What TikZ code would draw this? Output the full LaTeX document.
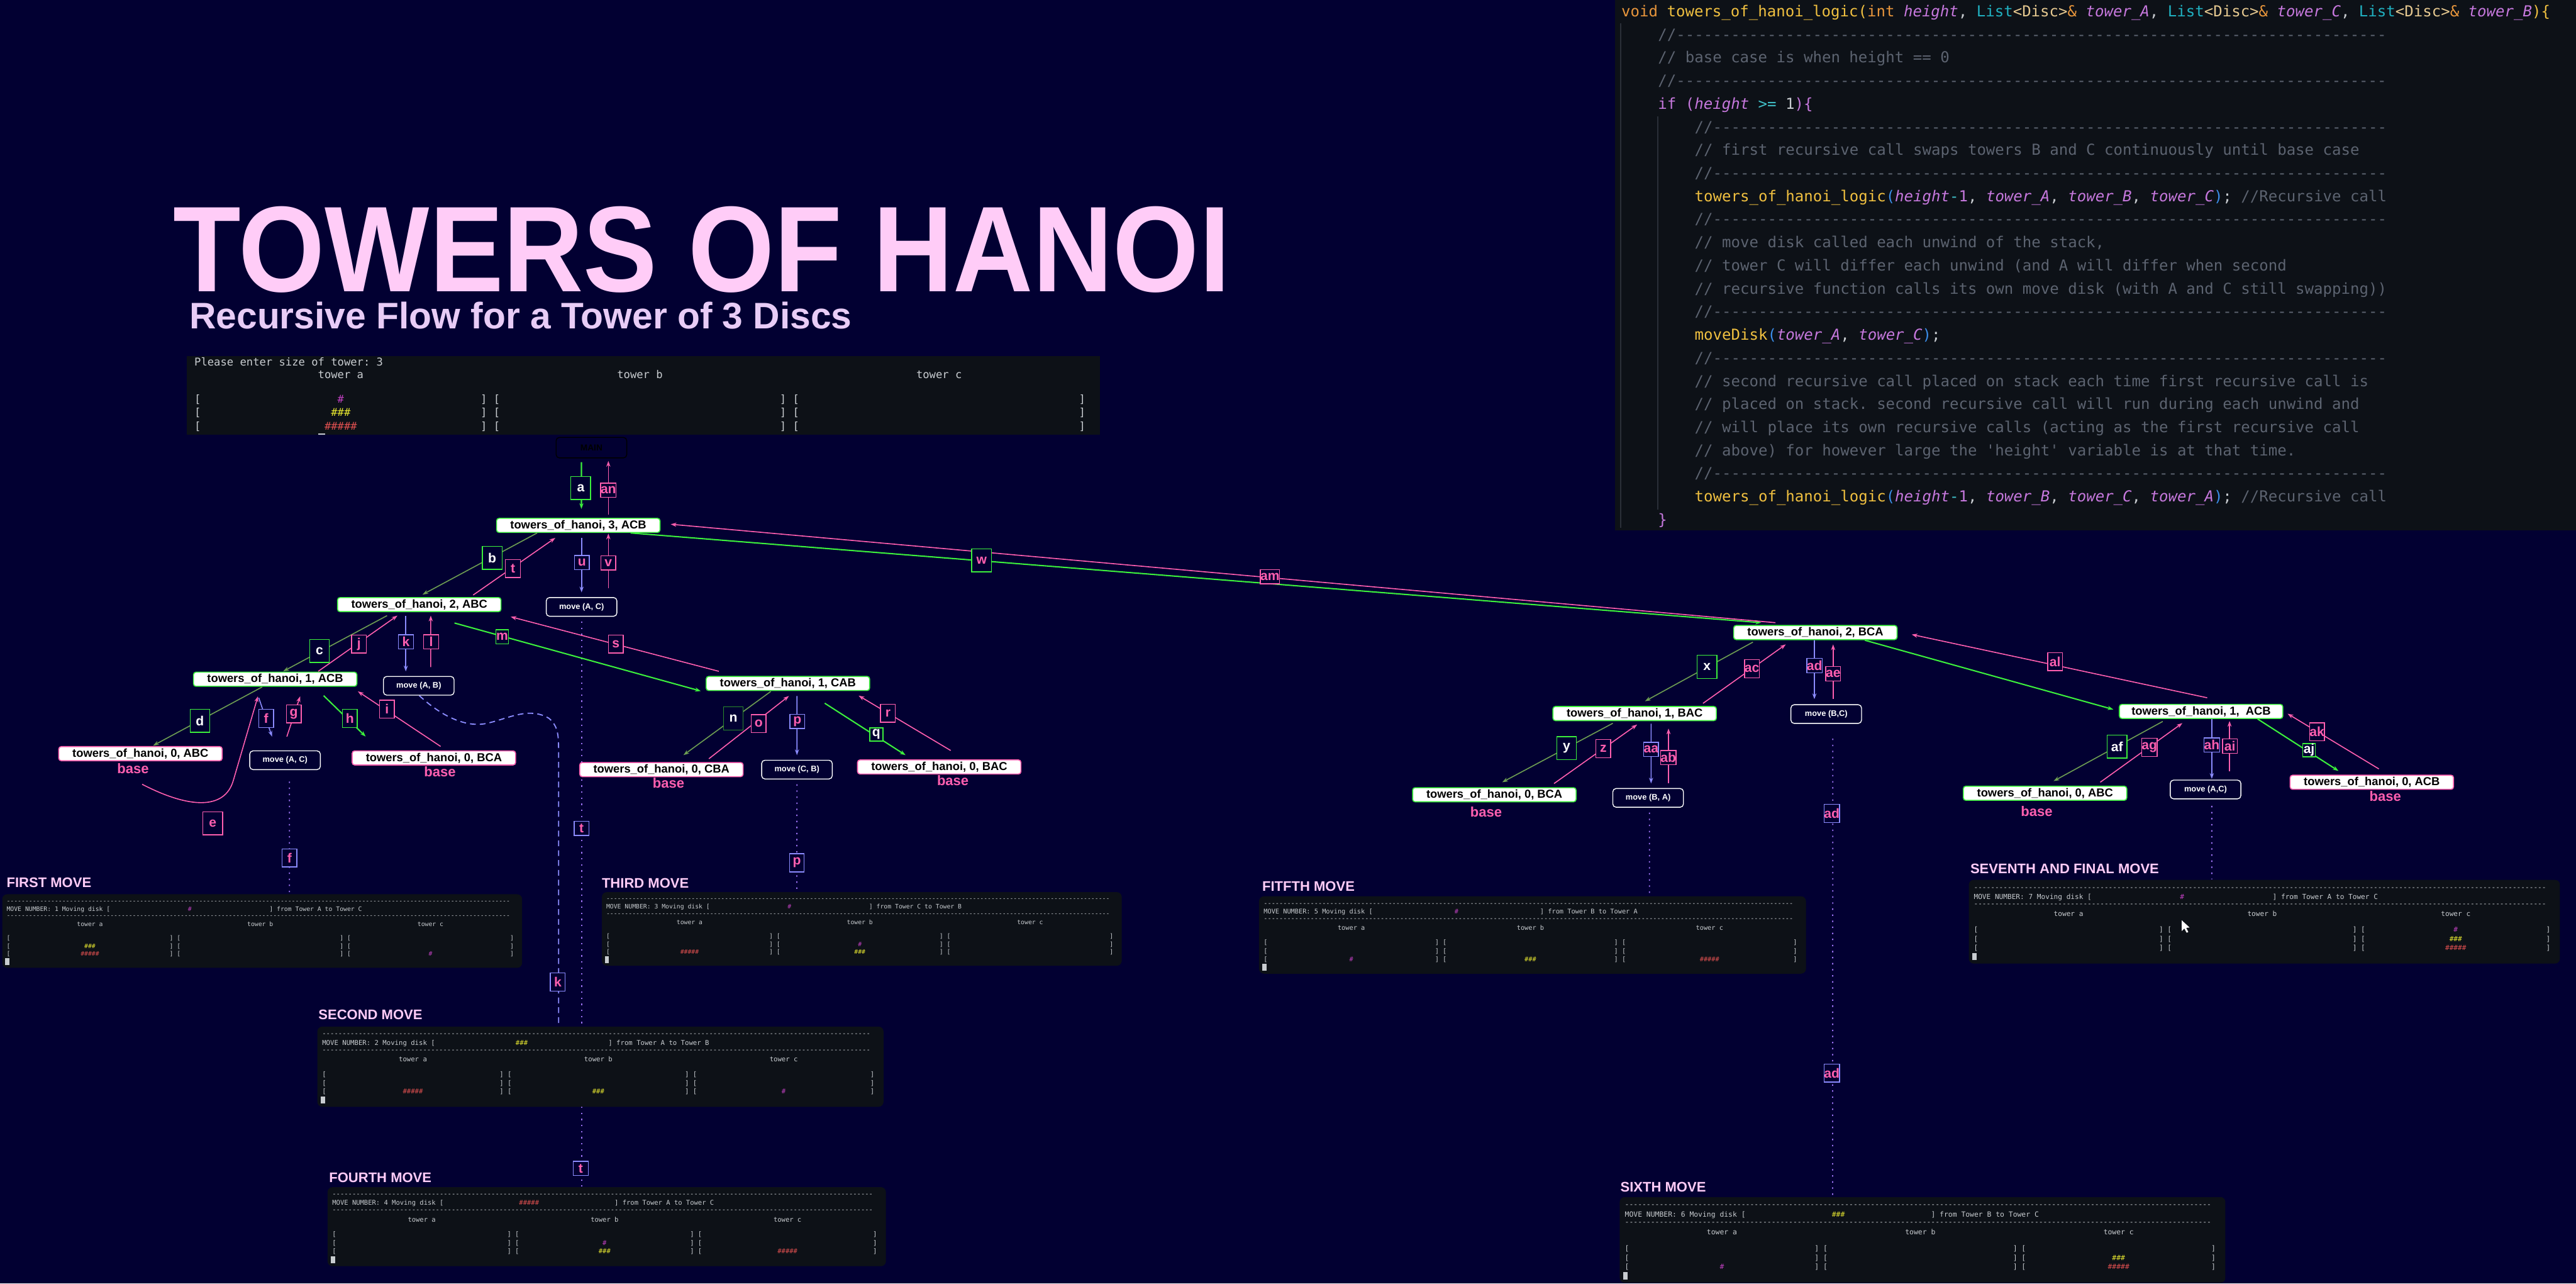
\documentclass[tikz,border=0pt]{standalone}
\usepackage{fontspec}
\setmainfont{Liberation Sans}
\setmonofont{DejaVu Sans Mono}
\usepackage{graphicx}
\usepackage{xcolor}
\usepackage{tikz}
\usetikzlibrary{arrows.meta,positioning}

\definecolor{navy}{RGB}{2,0,50}
\definecolor{panelbg}{HTML}{0D1117}
\definecolor{hotpink}{HTML}{FF5FAF}
\definecolor{brightgreen}{HTML}{3CF03C}
\definecolor{olivegreen}{HTML}{6E9E52}
\definecolor{darkgreen}{HTML}{2A8A2A}
\definecolor{lav}{HTML}{8C8CFF}
\definecolor{dotpurple}{HTML}{9A70F0}
\definecolor{titlepink}{HTML}{FFCCF7}
\definecolor{subpink}{HTML}{E8CCF6}
\definecolor{termtxt}{HTML}{C8CCD0}
\definecolor{discmag}{HTML}{C040C0}
\definecolor{discyel}{HTML}{E8E830}
\definecolor{discred}{HTML}{E05050}
\definecolor{codeKw}{HTML}{E8963C}
\definecolor{codeFn}{HTML}{F0C040}
\definecolor{codeVar}{HTML}{C678DD}
\definecolor{codeTy}{HTML}{20B0C0}
\definecolor{codeGen}{HTML}{E5C890}
\definecolor{codeCom}{HTML}{5C6370}
\definecolor{codePar}{HTML}{3B8EEA}
\definecolor{codeOp}{HTML}{40C0C8}
\definecolor{codePun}{HTML}{C8CCD0}
\definecolor{guide}{HTML}{2A2F38}

\pgfdeclarelayer{backdrop}
\pgfdeclarelayer{trails}
\pgfsetlayers{backdrop,trails,main}

% code colouring
\newcommand{\cKw}[1]{\textcolor{codeKw}{#1}}
\newcommand{\cFn}[1]{\textcolor{codeFn}{#1}}
\newcommand{\cVar}[1]{\textcolor{codeVar}{\itshape #1}}
\newcommand{\cTy}[1]{\textcolor{codeTy}{#1}}
\newcommand{\cGen}[1]{\textcolor{codeGen}{#1}}
\newcommand{\cCom}[1]{\textcolor{codeCom}{#1}}
\newcommand{\cPar}[1]{\textcolor{codePar}{#1}}
\newcommand{\cOp}[1]{\textcolor{codeOp}{#1}}
\newcommand{\cIf}[1]{\textcolor{codeVar}{#1}}

% terminal panels
\newcommand{\hyph}[1]{\foreach\hh in {1,...,#1}{-}}
\newcommand{\tcol}[1]{\makebox[43\fontcharwd\font`0][c]{#1}}
\newcommand{\twr}{\makebox[45\fontcharwd\font`0]{tower a}\makebox[\fontcharwd\font`0]{}\makebox[45\fontcharwd\font`0]{tower b}\makebox[\fontcharwd\font`0]{}\makebox[45\fontcharwd\font`0]{tower c}}
\newcommand{\dm}{\textcolor{discmag}{\#}}
\newcommand{\dy}{\textcolor{discyel}{\#\#\#}}
\newcommand{\dr}{\textcolor{discred}{\#\#\#\#\#}}
\newcommand{\panelframe}[5]{%
  \node[termbox, anchor=north west] (#1) at (0,0) {};
  \node[term] (#1-d1) at (2.7,5) {\hyph{136}};
  \node[term] (#1-hd) at (2.7,9.6) {MOVE NUMBER: #2 Moving disk [\tcol{#3}] from Tower #4 to Tower #5};
  \node[term] (#1-d2) at (2.7,14) {\hyph{136}};
  \node[term] (#1-tw) at (2.7,18.6) {\twr};
  \fill[termtxt] (2.2,39.4) rectangle (4.6,43.4);}
\newcommand{\panelrow}[5]{\node[term] (#1) at (2.7,#2) {[\tcol{#3}] [\tcol{#4}] [\tcol{#5}]};}

\begin{document}
\begin{tikzpicture}[x=0.02cm, y=-0.02cm,
  callnode/.style={draw=brightgreen, fill=white, text=black, font=\bfseries\fontsize{4}{4.5}\selectfont,
    minimum width=19.9mm, minimum height=1.72mm, inner sep=0pt, rounded corners=0.3mm, line width=0.35pt},
  basenode/.style={callnode, draw=hotpink},
  movenode/.style={draw=white, fill=navy, text=white, font=\bfseries\fontsize{2.8}{3}\selectfont,
    minimum width=8.6mm, minimum height=2.28mm, inner sep=0pt, rounded corners=0.4mm, line width=0.3pt},
  tag/.style={fill=navy, font=\bfseries\fontsize{4.6}{4.8}\selectfont, inner sep=0pt, line width=0.3pt},
  gtag/.style={tag, draw=brightgreen, text=white},
  ptag/.style={tag, draw=hotpink, text=hotpink},
  vtag/.style={tag, draw=lav, text=hotpink},
  tagL/.style={minimum width=2.4mm, minimum height=2.8mm},
  tagM/.style={minimum width=1.8mm, minimum height=2.2mm},
  tagS/.style={minimum width=1.8mm, minimum height=1.72mm},
  basetxt/.style={text=hotpink, font=\bfseries\fontsize{4.8}{5}\selectfont, inner sep=0pt},
  callg/.style={olivegreen, line width=0.35pt, -{Stealth[length=0.7mm, width=0.5mm]}},
  callb/.style={brightgreen, line width=0.45pt, -{Stealth[length=0.7mm, width=0.5mm]}},
  ret/.style={hotpink, line width=0.35pt, -{Stealth[length=0.7mm, width=0.5mm]}},
  mvarrow/.style={lav, line width=0.35pt, -{Stealth[length=0.7mm, width=0.5mm]}},
  trail/.style={dotpurple, line width=0.4pt, dash pattern=on 0.5pt off 1.6pt},
  trailk/.style={lav, line width=0.4pt, dash pattern=on 2pt off 1.4pt},
  term/.style={text=termtxt, font=\ttfamily\fontsize{2.13}{2.5}\selectfont, inner sep=0pt, anchor=west},
  termbox/.style={fill=panelbg, minimum width=63.3mm, minimum height=8.96mm, inner sep=0pt, rounded corners=0.6mm},
  panelat/.style n args={3}{shift={(#1,#2)}, scale=#3, transform shape},
  movetitle/.style={text=titlepink, font=\bfseries\fontsize{4.8}{5}\selectfont, inner sep=0pt, anchor=west},
  code/.style={text=codePun, font=\ttfamily\fontsize{5.24}{6}\selectfont, inner sep=0pt, anchor=base west},
]
\useasboundingbox (0,0) rectangle (1568,781);
\begin{pgfonlayer}{backdrop}
  \fill[navy] (0,0) rectangle (1568,781);
\end{pgfonlayer}

% title
\node[anchor=base west, inner sep=0pt, text=titlepink, font=\bfseries\fontsize{38.4}{40}\selectfont] (title) at (105,177.5) {\scalebox{1}[1.1]{TOWERS OF HANOI}};
\node[anchor=base west, inner sep=0pt, text=subpink, font=\bfseries\fontsize{12.8}{14}\selectfont] (subtitle) at (115,200) {Recursive Flow for a Tower of 3 Discs};

% code panel
\fill[panelbg] (982.9,0) rectangle (1568,322.6);
\draw[guide, line width=0.4pt] (986.6,14) -- (986.6,321);
\draw[guide, line width=0.4pt] (1009,71) -- (1009,310);
\node[code] (c1) at (986.6,10.1) {\cKw{void} \cFn{towers\_of\_hanoi\_logic(}\cKw{int} \cVar{height}, \cTy{List}\cGen{<Disc>}\cKw{\&} \cVar{tower\_A}, \cTy{List}\cGen{<Disc>}\cKw{\&} \cVar{tower\_C}, \cTy{List}\cGen{<Disc>}\cKw{\&} \cVar{tower\_B}\cFn{)\{}};
\foreach \n/\xx/\k in {2/1008.9/78, 4/1008.9/78, 6/1031.2/74, 8/1031.2/74, 10/1031.2/74, 14/1031.2/74, 16/1031.2/74, 21/1031.2/74}
  \node[code] (c\n) at (\xx,{10.1+(\n-1)*14.06}) {\cCom{//\hyph{\k}}};
\node[code] (c3) at (1008.9,38.2) {\cCom{// base case is when height == 0}};
\node[code] (c5) at (1008.9,66.3) {\cIf{if} \cIf{(}\cVar{height} \cOp{>=} 1\cIf{)\{}};
\node[code] (c7) at (1031.2,94.5) {\cCom{// first recursive call swaps towers B and C continuously until base case}};
\node[code] (c9) at (1031.2,122.6) {\cFn{towers\_of\_hanoi\_logic}\cPar{(}\cVar{height}\cOp{-}\textcolor{codeVar}{1}, \cVar{tower\_A}, \cVar{tower\_B}, \cVar{tower\_C}\cPar{)}; \cCom{//Recursive call}};
\node[code] (c11) at (1031.2,150.7) {\cCom{// move disk called each unwind of the stack,}};
\node[code] (c12) at (1031.2,164.8) {\cCom{// tower C will differ each unwind (and A will differ when second}};
\node[code] (c13) at (1031.2,178.8) {\cCom{// recursive function calls its own move disk (with A and C still swapping))}};
\node[code] (c15) at (1031.2,206.9) {\cFn{moveDisk}\cPar{(}\cVar{tower\_A}, \cVar{tower\_C}\cPar{)};};
\node[code] (c17) at (1031.2,235.1) {\cCom{// second recursive call placed on stack each time first recursive call is}};
\node[code] (c18) at (1031.2,249.1) {\cCom{// placed on stack. second recursive call will run during each unwind and}};
\node[code] (c19) at (1031.2,263.2) {\cCom{// will place its own recursive calls (acting as the first recursive call}};
\node[code] (c20) at (1031.2,277.2) {\cCom{// above) for however large the 'height' variable is at that time.}};
\node[code] (c22) at (1031.2,305.4) {\cFn{towers\_of\_hanoi\_logic}\cPar{(}\cVar{height}\cOp{-}\textcolor{codeVar}{1}, \cVar{tower\_B}, \cVar{tower\_C}, \cVar{tower\_A}\cPar{)}; \cCom{//Recursive call}};
\node[code] (c23) at (1008.9,319.4) {\cIf{\}}};

% input terminal
\begin{scope}[panelat={113}{216}{1.757}]
  \node[termbox, rounded corners=0pt, minimum height=5.46mm, anchor=north west] (start) at (0,0) {};
  \node[term] (start-q) at (2.7,2.3) {Please enter size of tower: 3};
  \node[term] (start-tw) at (2.7,6.8) {\twr};
  \panelrow{start-r1}{15.5}{\dm}{}{}
  \panelrow{start-r2}{20.1}{\dy}{}{}
  \panelrow{start-r3}{24.7}{\dr}{}{}
  \fill[termtxt] (46,27.1) rectangle (48.4,27.6);
\end{scope}

% call tree
\node[draw=black, text=black, font=\bfseries\fontsize{3}{3}\selectfont, minimum width=8.6mm, minimum height=2.5mm,
  rounded corners=0.4mm, inner sep=0pt, line width=0.3pt] (main) at (360,272.4) {MAIN};
\node[callnode] (t3) at (352,319.7) {towers\_of\_hanoi, 3, ACB};
\node[callnode] (t2abc) at (255.2,367.9) {towers\_of\_hanoi, 2, ABC};
\node[callnode] (t1acb) at (167.5,413.3) {towers\_of\_hanoi, 1, ACB};
\node[basenode] (t0abc) at (85.5,458.6) {towers\_of\_hanoi, 0, ABC};
\node[basenode] (t0bca) at (264.1,461.2) {towers\_of\_hanoi, 0, BCA};
\node[callnode] (t1cab) at (479.6,415.9) {towers\_of\_hanoi, 1, CAB};
\node[basenode] (t0cba) at (402.6,468.3) {towers\_of\_hanoi, 0, CBA};
\node[basenode] (t0bac) at (571.7,466.7) {towers\_of\_hanoi, 0, BAC};
\node[callnode] (t2bca) at (1105,384.9) {towers\_of\_hanoi, 2, BCA};
\node[callnode] (t1bac) at (995,434.2) {towers\_of\_hanoi, 1, BAC};
\node[callnode] (t0bca2) at (909.6,483.6) {towers\_of\_hanoi, 0, BCA};
\node[callnode] (t1acb2) at (1339.8,432.9) {towers\_of\_hanoi, 1,\ \ ACB};
\node[callnode] (t0abc2) at (1244.8,482.7) {towers\_of\_hanoi, 0, ABC};
\node[basenode] (t0acb) at (1443.7,476) {towers\_of\_hanoi, 0, ACB};

\node[movenode] (mvac1) at (354,369.3) {move (A, C)};
\node[movenode] (mvab) at (254.9,417.3) {move (A, B)};
\node[movenode] (mvac2) at (173.5,462.6) {move (A, C)};
\node[movenode] (mvcb) at (485.1,468.3) {move (C, B)};
\node[movenode] (mvbc) at (1111.6,434.5) {move (B,C)};
\node[movenode] (mvba) at (1003.2,485.5) {move (B, A)};
\node[movenode] (mvac3) at (1342.5,480.4) {move (A,C)};

\node[basetxt] (base1) at (81,467.5) {base};
\node[basetxt] (base2) at (267.8,469.7) {base};
\node[basetxt] (base3) at (406.9,476.5) {base};
\node[basetxt] (base4) at (580,475) {base};
\node[basetxt] (base5) at (904.6,494) {base};
\node[basetxt] (base6) at (1239.7,493.5) {base};
\node[basetxt] (base7) at (1451.9,484.6) {base};

% calls and returns
\draw[callb] ([shift={(-6.1,2.3)}]main.south) -- ([shift={(1.9,-5.4)}]t3.north);
\draw[ret] ([shift={(18.3,-1.8)}]t3.north) -- ([shift={(10.3,1.6)}]main.south);
\draw[callg] ([shift={(25,0)}]t3.south west) -- ([shift={(2,-1.5)}]t2abc.north);
\draw[ret] ([shift={(32.8,-1.2)}]t2abc.north) -- ([shift={(-14,3)}]t3.south);
\draw[mvarrow] ([shift={(2,3)}]t3.south) -- ([shift={(0,-2.9)}]mvac1.north);
\draw[ret] ([shift={(16.3,-5.6)}]mvac1.north) -- ([shift={(18.3,0.4)}]t3.south);
\draw[callb] ([shift={(-18.2,0)}]t3.south east) -- ([shift={(17.1,-1.4)}]t2bca.north west);
\draw[ret] ([shift={(25.7,-1.4)}]t2bca.north west) -- ([shift={(6.2,-0.7)}]t3.east);

\draw[callg] ([shift={(-19.6,2.1)}]t2abc.south) -- ([shift={(4.9,-0.2)}]t1acb.north);
\draw[ret] ([shift={(26.2,-0.2)}]t1acb.north) -- ([shift={(-13.3,2.1)}]t2abc.south);
\draw[mvarrow] ([shift={(-8.2,2.1)}]t2abc.south) -- ([shift={(-7.9,-2.8)}]mvab.north);
\draw[ret] ([shift={(7.3,-5.4)}]mvab.north) -- ([shift={(7,2.1)}]t2abc.south);
\draw[callb] ([shift={(-28.6,6.6)}]t2abc.south east) -- ([shift={(-3,4.6)}]t1cab.west);
\draw[ret] ([shift={(8,-2.8)}]t1cab.north west) -- ([shift={(5.6,2.8)}]t2abc.south east);

\draw[callg] ([shift={(-7.9,0.1)}]t1acb.south) -- ([shift={(7.7,-0.3)}]t0abc.north);
\draw[ret] ([shift={(1,14)}]t0abc.south) .. controls (115,492) and (136.7,493) .. (142,475) -- ([shift={(-10.5,5.8)}]t1acb.south);
\draw[mvarrow] ([shift={(-10,6.7)}]t1acb.south) -- ([shift={(-7.9,-8.4)}]mvac2.north);
\draw[ret] ([shift={(1.1,-8.4)}]mvac2.north) -- ([shift={(15.2,5.8)}]t1acb.south);
\draw[callb] ([shift={(29.5,5.4)}]t1acb.south) -- ([shift={(-41.5,-8.4)}]t0bca.north);
\draw[ret] ([shift={(4.1,-2.4)}]t0bca.north) -- ([shift={(0.3,2.8)}]t1acb.south east);

\draw[callg] ([shift={(-10.4,0.2)}]t1cab.south) -- ([shift={(13.4,-4.2)}]t0cba.north);
\draw[ret] ([shift={(28.9,-2)}]t0cba.north) -- ([shift={(0.6,3)}]t1cab.south);
\draw[mvarrow] ([shift={(5.5,3)}]t1cab.south) -- ([shift={(0,-2.8)}]mvcb.north);
\draw[callb] ([shift={(22.4,7.4)}]t1cab.south) -- ([shift={(-20.5,-2.6)}]t0bac.north);
\draw[ret] ([shift={(7,-5.4)}]t0bac.north) -- ([shift={(-7,2.8)}]t1cab.south east);

\draw[callg] ([shift={(-38,1.2)}]t2bca.south) -- ([shift={(6.3,-2.9)}]t1bac.north);
\draw[ret] ([shift={(41.6,-1.6)}]t1bac.north) -- ([shift={(-18,2.6)}]t2bca.south);
\draw[mvarrow] ([shift={(-0.6,0)}]t2bca.south) -- ([shift={(-7.2,-3.1)}]mvbc.north);
\draw[ret] ([shift={(4.2,-3.4)}]mvbc.north) -- ([shift={(10.8,2.6)}]t2bca.south);
\draw[callb] ([shift={(-19.9,0.1)}]t2bca.south east) -- ([shift={(-3.4,-1.2)}]t1acb2.west);
\draw[ret] ([shift={(3.7,-3.7)}]t1acb2.north) -- ([shift={(8.6,1.2)}]t2bca.east);

\draw[callg] ([shift={(-13.3,1.3)}]t1bac.south) -- ([shift={(4.8,-3)}]t0bca2.north);
\draw[ret] ([shift={(36.3,-2.2)}]t0bca2.north) -- ([shift={(1.5,2.1)}]t1bac.south);
\draw[mvarrow] ([shift={(10,1.6)}]t1bac.south) -- ([shift={(1.8,-2.8)}]mvba.north);
\draw[ret] ([shift={(12.4,-3.1)}]mvba.north) -- ([shift={(20.6,4.5)}]t1bac.south);

\draw[callg] ([shift={(-23.4,1.5)}]t1acb2.south) -- ([shift={(5.2,-2.8)}]t0abc2.north);
\draw[ret] ([shift={(33.6,-2.1)}]t0abc2.north) -- ([shift={(-11.4,2.5)}]t1acb2.south);
\draw[mvarrow] ([shift={(6.5,0)}]t1acb2.south) -- ([shift={(3.8,-0.5)}]mvac3.north);
\draw[ret] ([shift={(14.6,-5.2)}]mvac3.north) -- ([shift={(17.3,1.2)}]t1acb2.south);
\draw[callb] ([shift={(34.4,0)}]t1acb2.south) -- ([shift={(-20.3,-2.3)}]t0acb.north);
\draw[ret] ([shift={(4.3,-3.5)}]t0acb.north) -- ([shift={(2.6,1.4)}]t1acb2.east);

% move screenshots
\node[movetitle] (mt1) at (3.7,537) {FIRST MOVE};
\begin{scope}[panelat={1}{543.8}{1}]
  \panelframe{mv1}{1}{\dm}{A}{C}
  \panelrow{mv1-r1}{27.2}{}{}{}
  \panelrow{mv1-r2}{32.2}{\dy}{}{}
  \panelrow{mv1-r3}{36.8}{\dr}{}{\dm}
\end{scope}
\node[movetitle] (mt2) at (193.5,617.4) {SECOND MOVE};
\begin{scope}[panelat={192.8}{624.3}{1.089}]
  \panelframe{mv2}{2}{\dy}{A}{B}
  \panelrow{mv2-r1}{27.2}{}{}{}
  \panelrow{mv2-r2}{32.2}{}{}{}
  \panelrow{mv2-r3}{36.8}{\dr}{\dy}{\dm}
\end{scope}
\node[movetitle] (mt3) at (366,537.6) {THIRD MOVE};
\begin{scope}[panelat={366}{542.5}{1}]
  \panelframe{mv3}{3}{\dm}{C}{B}
  \panelrow{mv3-r1}{27.2}{}{}{}
  \panelrow{mv3-r2}{32.2}{}{\dm}{}
  \panelrow{mv3-r3}{36.8}{\dr}{\dy}{}
\end{scope}
\node[movetitle] (mt4) at (200,716.5) {FOURTH MOVE};
\begin{scope}[panelat={199}{722}{1.074}]
  \panelframe{mv4}{4}{\dr}{A}{C}
  \panelrow{mv4-r1}{27.2}{}{}{}
  \panelrow{mv4-r2}{32.2}{}{\dm}{}
  \panelrow{mv4-r3}{36.8}{}{\dy}{\dr}
\end{scope}
\node[movetitle] (mt5) at (768,539.5) {FITFTH MOVE};
\begin{scope}[panelat={766}{545}{1.052}]
  \panelframe{mv5}{5}{\dm}{B}{A}
  \panelrow{mv5-r1}{27.2}{}{}{}
  \panelrow{mv5-r2}{32.2}{}{}{}
  \panelrow{mv5-r3}{36.8}{\dm}{\dy}{\dr}
\end{scope}
\node[movetitle] (mt6) at (986,722.2) {SIXTH MOVE};
\begin{scope}[panelat={985.5}{728}{1.165}]
  \panelframe{mv6}{6}{\dy}{B}{C}
  \panelrow{mv6-r1}{27.2}{}{}{}
  \panelrow{mv6-r2}{32.2}{}{}{\dy}
  \panelrow{mv6-r3}{36.8}{\dm}{}{\dr}
\end{scope}
\node[movetitle] (mt7) at (1199,528.5) {SEVENTH AND FINAL MOVE};
\begin{scope}[panelat={1198}{535}{1.137}]
  \panelframe{mv7}{7}{\dm}{A}{C}
  \panelrow{mv7-r1}{27.2}{}{}{\dm}
  \panelrow{mv7-r2}{32.2}{}{}{\dy}
  \panelrow{mv7-r3}{36.8}{}{}{\dr}
\end{scope}
\fill[white] (1328,560) -- (1328,566.5) -- (1329.6,565) -- (1331,567.6) -- (1332,567.1) -- (1330.7,564.6) -- (1332.8,564.4) -- cycle;

% trails from each move down to its screenshot
\begin{pgfonlayer}{trails}
  \draw[trail] ([shift={(2.7,7)}]mvac2.south) -- ([shift={(175.2,0)}]mv1.north west);
  \draw[trailk] ([shift={(0.3,0)}]mvab.south) .. controls (270,437) and (285,443) .. (297,440)
    .. controls (310,437) and (322,430) .. (334,437) .. controls (339,441) and (340,446) .. (340,455)
    -- ([shift={(147.2,0)}]mv2.north west);
  \draw[trail] ([shift={(0,3)}]mvac1.south) -- ([shift={(155,0)}]mv4.north west);
  \draw[trail] ([shift={(0,3)}]mvcb.south) -- ([shift={(119,0)}]mv3.north west);
  \draw[trail] ([shift={(0.8,3)}]mvba.south) -- ([shift={(238,0)}]mv5.north west);
  \draw[trail] ([shift={(4,9)}]mvbc.south) -- ([shift={(130,0)}]mv6.north west);
  \draw[trail] ([shift={(3.8,4)}]mvac3.south) -- ([shift={(148.3,0)}]mv7.north west);
\end{pgfonlayer}

% step labels
\node[gtag,tagL] (la) at (353.5,297) {a};
\node[ptag,tagS] (lan) at (370.3,298.3) {an};
\node[gtag,tagL] (lb) at (299.6,339.5) {b};
\node[ptag,tagM] (lt1) at (312.2,345.9) {t};
\node[vtag,tagS] (lu) at (354.2,342.3) {u};
\node[ptag,tagS] (lv) at (370.3,342.5) {v};
\node[gtag,tagL,text=hotpink] (lw) at (597.5,341) {w};
\node[ptag,tagS] (lam) at (773,351) {am};
\node[gtag,tagL] (lc) at (194.5,396.1) {c};
\node[ptag,tagM] (lj) at (218.5,391.9) {j};
\node[vtag,tagS] (lk) at (247.1,390.5) {k};
\node[ptag,tagS] (ll) at (262.4,390.5) {l};
\node[gtag,tagS,minimum width=1.5mm,text=hotpink] (lm) at (305.7,387.5) {m};
\node[ptag,tagM] (ls) at (374.9,391.9) {s};
\node[gtag,tagL] (ld) at (121.7,438.6) {d};
\node[ptag,tagL] (le) at (129.5,501) {e};
\node[vtag,tagM] (lf) at (162,437.2) {f};
\node[ptag,tagM] (lg) at (178.8,434.4) {g};
\node[gtag,tagM,text=hotpink] (lh) at (213,437.2) {h};
\node[ptag,tagM] (li) at (235.5,431.5) {i};
\node[gtag,tagL,draw=darkgreen] (ln) at (446.4,437.2) {n};
\node[ptag,tagM] (lo) at (461.8,440.3) {o};
\node[vtag,tagS] (lp) at (485.3,439) {p};
\node[gtag,minimum width=1.6mm,minimum height=1.6mm] (lq) at (533.4,446.9) {q};
\node[ptag,tagM] (lr) at (540.5,434) {r};
\node[gtag,tagL] (lx) at (1039,405.8) {x};
\node[ptag,tagM] (lac) at (1066.4,406.9) {ac};
\node[vtag,tagS] (lad) at (1104.5,405) {ad};
\node[ptag,tagS] (lae) at (1115.8,410) {ae};
\node[gtag,tagL] (ly) at (953.6,455.2) {y};
\node[ptag,tagM] (lz) at (975.9,455.6) {z};
\node[vtag,tagS] (laa) at (1005,456) {aa};
\node[ptag,tagS] (lab) at (1015.5,461) {ab};
\node[ptag,tagM] (lal) at (1250.9,402.6) {al};
\node[gtag,tagL] (laf) at (1288.6,454.3) {af};
\node[ptag,tagM] (lag) at (1308.3,454.8) {ag};
\node[vtag,tagS] (lah) at (1346.3,453.4) {ah};
\node[ptag,tagS] (lai) at (1357.3,454) {ai};
\node[gtag,minimum width=1.5mm,minimum height=1.6mm] (laj) at (1405.5,456.5) {aj};
\node[ptag,tagM] (lak) at (1410.3,445.3) {ak};
\node[vtag,tagM] (lf2) at (176.2,522) {f};
\node[vtag,tagS] (lt2) at (354,504) {t};
\node[vtag,tagM] (lk2) at (339.5,597.5) {k};
\node[vtag,tagM] (lp2) at (485,525) {p};
\node[vtag,tagS] (lt3) at (353.5,711) {t};
\node[vtag,tagM] (lad2) at (1115,495) {ad};
\node[vtag,tagM] (lad3) at (1115,653) {ad};
\end{tikzpicture}
\end{document}
